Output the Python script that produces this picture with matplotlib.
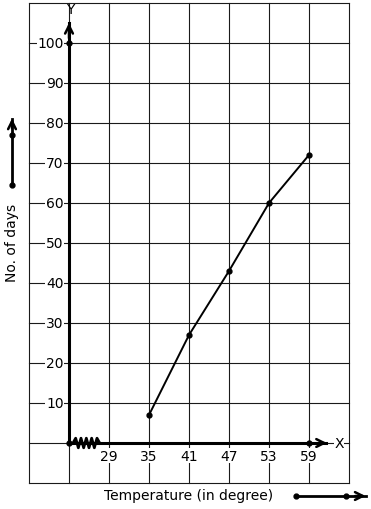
import numpy as np
import matplotlib
matplotlib.use("Agg")
import matplotlib.pyplot as plt

# data
temps = [35, 41, 47, 53, 59]
days = [7, 27, 43, 60, 72]
x_ticks = [29, 35, 41, 47, 53, 59]
y_ticks = [10, 20, 30, 40, 50, 60, 70, 80, 90, 100]

fig = plt.figure(figsize=(3.71, 5.10), dpi=100)
ax = fig.add_axes([0, 0, 1, 1])
ax.set_xlim(12.65, 68.3)
ax.set_ylim(-16.5, 111)
ax.axis("off")

k = "#1a1a1a"
# graph paper grid
for gx in np.arange(17, 66, 6):
    ax.plot([gx, gx], [-10, 110], color=k, lw=0.8, zorder=1)
for gy in np.arange(-10, 111, 10):
    ax.plot([17, 65], [gy, gy], color=k, lw=0.8, zorder=1)

# axes
ax.plot([23, 23], [0, 105], color="black", lw=2.2, zorder=3)
ax.plot([23, 61.6], [0, 0], color="black", lw=2.2, zorder=3)
ax.annotate("", xy=(23, 105.7), xytext=(23, 100.5),
            arrowprops=dict(arrowstyle="->", color="black", lw=1.8, mutation_scale=14), zorder=4)
ax.annotate("", xy=(62.1, 0), xytext=(60, 0),
            arrowprops=dict(arrowstyle="->", color="black", lw=1.8, mutation_scale=14), zorder=4)
ax.text(23.15, 108.4, "Y", ha="center", va="center", fontsize=10, zorder=5)
ax.text(63.5, 0, "X", ha="center", va="center", fontsize=10, zorder=5,
        bbox=dict(fc="white", ec="none", pad=0.5))

# zigzag break near origin
zx = np.linspace(23.6, 27.6, 11)
zy = np.array([0, 1.2, -1.2, 1.2, -1.2, 1.2, -1.2, 1.2, -1.2, 1.2, 0])
ax.plot(zx, zy, color="black", lw=2, zorder=4)

# tick labels
for t in x_ticks:
    ax.text(t, -3.2, str(t), ha="center", va="center", fontsize=10, zorder=5,
            bbox=dict(fc="white", ec="none", pad=0.5))
for t in y_ticks:
    ax.text(22.2, t, str(t), ha="right", va="center", fontsize=10, zorder=5,
            bbox=dict(fc="white", ec="none", pad=0.5))

# data line
ax.plot(temps, days, color="black", lw=1.4, marker="o", ms=3.5, zorder=6)
ax.plot([23, 23, 59], [100, 0, 0], "o", color="black", ms=3.5, zorder=6)

# axis titles with scale arrows
ax.text(14.45, 50.3, "No. of days", rotation=90, ha="center", va="center", fontsize=10)
ax.plot([14.45, 14.45], [64.5, 81], color="black", lw=2, zorder=3)
ax.annotate("", xy=(14.45, 81.8), xytext=(14.45, 78),
            arrowprops=dict(arrowstyle="->", color="black", lw=1.8, mutation_scale=14))
ax.plot([14.45, 14.45], [64.5, 77], "o", color="black", ms=3.5)

ax.text(41, -13.1, "Temperature (in degree)", ha="center", va="center", fontsize=10)
ax.plot([57.05, 67.5], [-13.25, -13.25], color="black", lw=2, zorder=3)
ax.annotate("", xy=(67.9, -13.25), xytext=(65.5, -13.25),
            arrowprops=dict(arrowstyle="->", color="black", lw=1.8, mutation_scale=14))
ax.plot([57.05, 64.55], [-13.25, -13.25], "o", color="black", ms=3.5)

fig.savefig("out.png", dpi=100)
